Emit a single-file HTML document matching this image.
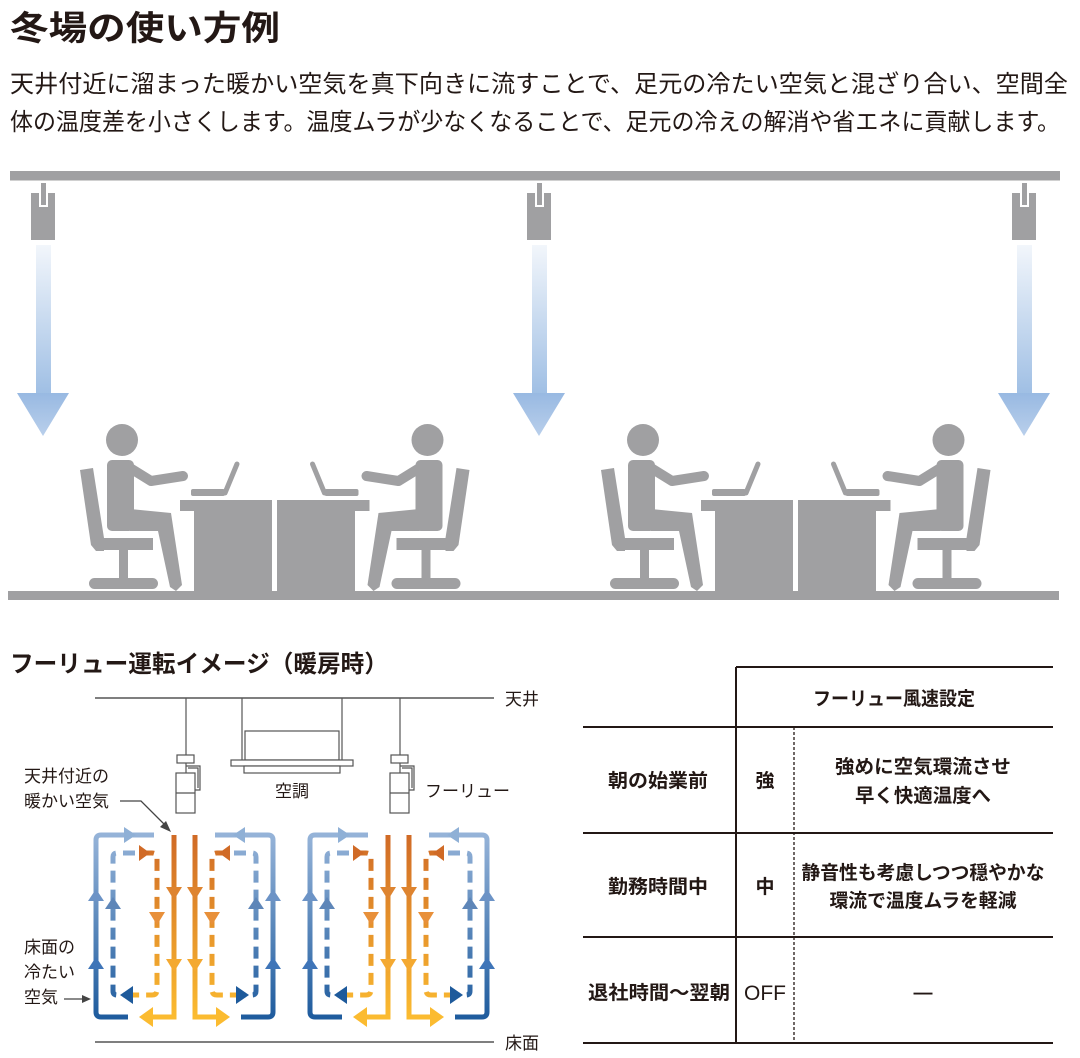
<!DOCTYPE html>
<html><head><meta charset="utf-8"><style>
html,body{margin:0;padding:0;background:#fff;}
svg{display:block;}
text{font-family:"Liberation Sans","Noto Sans CJK JP",sans-serif;fill:#231815;}
</style></head><body>
<svg width="1080" height="1058" viewBox="0 0 1080 1058" xmlns="http://www.w3.org/2000/svg">
<defs>
<linearGradient id="ga" x1="0" y1="0" x2="0" y2="1"><stop offset="0" stop-color="#f2f6fb"/><stop offset="1" stop-color="#9bbce3"/></linearGradient>
<linearGradient id="gh" x1="0" y1="0" x2="0" y2="1"><stop offset="0" stop-color="#98b9e2"/><stop offset="1" stop-color="#b9cfeb"/></linearGradient>
<linearGradient id="gb" gradientUnits="userSpaceOnUse" x1="0" y1="835" x2="0" y2="1017"><stop offset="0" stop-color="#95b3d8"/><stop offset="1" stop-color="#1f5c9e"/></linearGradient>
<linearGradient id="go" gradientUnits="userSpaceOnUse" x1="0" y1="835" x2="0" y2="1017"><stop offset="0" stop-color="#d06a26"/><stop offset="1" stop-color="#fbbb30"/></linearGradient>
<g id="fan">
<rect x="0" y="22" width="24" height="47" fill="#a0a0a2"/>
<rect x="8" y="22" width="9" height="14" fill="#fff"/>
<rect x="10" y="12" width="5" height="22" fill="#a0a0a2"/>
<rect x="5" y="74" width="15" height="157" fill="url(#ga)"/>
<polygon points="-14,222 38,222 12,265" fill="url(#gh)"/>
</g>
<g id="person" fill="#a0a0a2">
<circle cx="122" cy="440" r="16"/>
<rect x="107" y="460" width="27" height="71" rx="5"/>
<polyline points="130,468 151,481 183,476" fill="none" stroke="#a0a0a2" stroke-width="10" stroke-linecap="round" stroke-linejoin="round"/>
<polygon points="130,509 171,513 182,585 176,591 170,587 158,531 130,531"/>
<polygon points="80,470 93,468 104,538 104,551 96,551 91,545"/>
<rect x="96" y="538" width="57" height="12"/>
<rect x="119" y="550" width="9" height="30"/>
<rect x="89" y="578" width="69" height="11" rx="5.5"/>
<rect x="191" y="489" width="34" height="7" rx="2"/>
<line x1="225" y1="493" x2="237" y2="464" stroke="#a0a0a2" stroke-width="5" stroke-linecap="round"/>
</g>
<g id="office" fill="#a0a0a2">
<use href="#person"/>
<use href="#person" transform="translate(549.5,0) scale(-1,1)"/>
<rect x="180" y="500" width="92" height="11"/>
<rect x="277" y="500" width="92.5" height="11"/>
<rect x="194" y="511" width="78" height="80"/>
<rect x="277" y="511" width="78" height="80"/>
</g>
<g id="half">
<g fill="none" stroke-width="5">
<path d="M154,835 H101 Q96,835 96,840 V1012 Q96,1017 101,1017 H128" stroke="url(#gb)"/>
<path d="M174,835 V1017 H150" stroke="url(#go)"/>
<path d="M135,853 H117 Q113,853 113,857 V991 Q113,995 117,995 H124" stroke="url(#gb)" stroke-dasharray="12,7"/>
<path d="M142,853 H152 Q157,853 157,858 V990 Q157,995 152,995 H131" stroke="url(#go)" stroke-dasharray="12,7"/>
</g>
<polygon points="124,827 136,835 124,843" fill="#8fb0d6"/>
<polygon points="153,1007 139,1017 153,1027" fill="#fbbb30"/>
<polygon points="139,845 150,853 139,861" fill="#d06a26"/>
<polygon points="133,986 120,995 133,1004" fill="#1e5a9b"/>
<polygon points="88,901 96,889 104,901" fill="#6c93c6"/>
<polygon points="88,969 96,957 104,969" fill="#3f75b8"/>
<polygon points="105,909 113,897 121,909" fill="#5e86b8"/>
<polygon points="166,887 174,900 182,887" fill="#de8430"/>
<polygon points="166,959 174,972 182,959" fill="#f4a931"/>
<polygon points="149,912 157,925 165,912" fill="#e8903a"/>
</g>
<g id="loopgrp">
<use href="#half"/>
<use href="#half" transform="translate(369,0) scale(-1,1)"/>
</g>
<g id="bfan" fill="#fff" stroke="#555" stroke-width="1.2">
<line x1="10" y1="698" x2="10" y2="755"/>
<rect x="1" y="755" width="17" height="8"/>
<line x1="10" y1="763" x2="10" y2="773"/>
<polyline points="10,766 24,766 24,790 19,790" fill="none"/>
<polyline points="12,768 22,768 22,788" fill="none"/>
<rect x="0" y="773" width="19" height="40"/>
<line x1="0" y1="793" x2="19" y2="793"/>
</g>
</defs>

<text x="10" y="40" font-size="34" font-weight="bold" textLength="270" lengthAdjust="spacingAndGlyphs">冬場の使い方例</text>
<text x="10" y="92" font-size="24" textLength="1058" lengthAdjust="spacingAndGlyphs">天井付近に溜まった暖かい空気を真下向きに流すことで、足元の冷たい空気と混ざり合い、空間全</text>
<text x="10" y="130" font-size="24" textLength="1050" lengthAdjust="spacingAndGlyphs">体の温度差を小さくします。温度ムラが少なくなることで、足元の冷えの解消や省エネに貢献します。</text>

<rect x="10" y="171" width="1050" height="9.5" fill="#a0a0a2"/>
<use href="#fan" transform="translate(31,171)"/>
<use href="#fan" transform="translate(527,171)"/>
<use href="#fan" transform="translate(1012,171)"/>
<use href="#office"/>
<use href="#office" transform="translate(521,0)"/>
<rect x="8" y="591" width="1051" height="9" fill="#a0a0a2"/>

<text x="10" y="672" font-size="24" font-weight="bold" textLength="378" lengthAdjust="spacingAndGlyphs">フーリュー運転イメージ（暖房時）</text>

<line x1="95" y1="698" x2="494" y2="698" stroke="#333" stroke-width="1.2"/>
<line x1="95" y1="1042" x2="494" y2="1042" stroke="#333" stroke-width="1.2"/>
<text x="505" y="705" font-size="17">天井</text>
<text x="505" y="1049" font-size="17">床面</text>
<use href="#bfan" transform="translate(176,0)"/>
<use href="#bfan" transform="translate(390,0)"/>
<g fill="#fff" stroke="#555" stroke-width="1.2">
<line x1="242" y1="698" x2="242" y2="760"/>
<line x1="342" y1="698" x2="342" y2="760"/>
<rect x="245" y="731" width="94" height="29"/>
<rect x="231" y="760" width="122" height="6"/>
<rect x="244" y="766" width="96" height="7"/>
</g>
<text x="275" y="797" font-size="17" fill="#333">空調</text>
<text x="425" y="797" font-size="17" fill="#333">フーリュー</text>
<text x="24" y="782" font-size="17" fill="#333">天井付近の</text>
<text x="24" y="807" font-size="17" fill="#333">暖かい空気</text>
<text x="24" y="953" font-size="17" fill="#333">床面の</text>
<text x="24" y="978" font-size="17" fill="#333">冷たい</text>
<text x="24" y="1003" font-size="17" fill="#333">空気</text>
<polyline points="120,801 141,801 166,826" fill="none" stroke="#444" stroke-width="1.3"/>
<polygon points="171,832 160,827 166,821" fill="#444"/>
<line x1="64" y1="999" x2="84" y2="999" stroke="#444" stroke-width="1.3"/>
<polygon points="91,999 82,995 82,1003" fill="#444"/>
<use href="#loopgrp"/>
<use href="#loopgrp" transform="translate(214,0)"/>

<g stroke="#231815" stroke-width="2">
<line x1="736" y1="667" x2="1053" y2="667"/>
<line x1="583" y1="727" x2="1053" y2="727"/>
<line x1="583" y1="833" x2="1053" y2="833"/>
<line x1="583" y1="937" x2="1053" y2="937"/>
<line x1="583" y1="1043" x2="1053" y2="1043"/>
<line x1="736" y1="667" x2="736" y2="1043"/>
</g>
<line x1="794" y1="727" x2="794" y2="1043" stroke="#231815" stroke-width="1.3" stroke-dasharray="3,2"/>
<g font-size="19" font-weight="bold" text-anchor="middle">
<text x="894" y="705" textLength="162" lengthAdjust="spacingAndGlyphs">フーリュー風速設定</text>
<text x="658" y="787" textLength="100" lengthAdjust="spacingAndGlyphs">朝の始業前</text>
<text x="765" y="787">強</text>
<text x="923" y="773" textLength="176" lengthAdjust="spacingAndGlyphs">強めに空気環流させ</text>
<text x="923" y="802" textLength="136" lengthAdjust="spacingAndGlyphs">早く快適温度へ</text>
<text x="658" y="893" textLength="100" lengthAdjust="spacingAndGlyphs">勤務時間中</text>
<text x="765" y="893">中</text>
<text x="923" y="879" textLength="243" lengthAdjust="spacingAndGlyphs">静音性も考慮しつつ穏やかな</text>
<text x="923" y="907" textLength="187" lengthAdjust="spacingAndGlyphs">環流で温度ムラを軽減</text>
<text x="659" y="999" textLength="142" lengthAdjust="spacingAndGlyphs">退社時間～翌朝</text>
<text x="765" y="1000" font-weight="normal" font-size="21">OFF</text>
<text x="923" y="999">―</text>
</g>
</svg>
</body></html>
